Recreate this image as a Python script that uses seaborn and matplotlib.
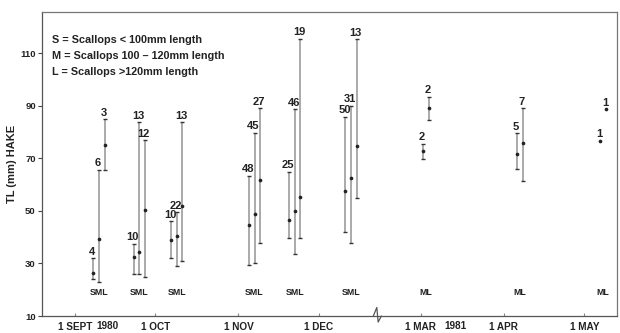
import numpy as np
import pandas as pd
import matplotlib
matplotlib.use("Agg")
import matplotlib.pyplot as plt
import matplotlib.transforms as mtransforms
import seaborn as sns

# ---------------- data ----------------
sample_dates = ["1980-09-10", "1980-09-25", "1980-10-09", "1980-11-07", "1980-11-22",
                "1980-12-13", "1981-03-03", "1981-04-07", "1981-05-08"]
nan = np.nan
s_mean = [26.4, 32.6, 39.0, 44.7, 46.6, 57.7, nan, nan, nan]
s_min = [24.1, 26.0, 32.0, 29.4, 39.6, 42.1, nan, nan, nan]
s_max = [32.0, 37.4, 46.0, 63.5, 65.0, 85.9, nan, nan, nan]
s_n = [4, 10, 10, 48, 25, 50, None, None, None]
m_mean = [39.2, 34.5, 40.5, 48.7, 50.0, 62.7, 72.9, 71.7, 76.7]
m_min = [23.1, 26.0, 29.2, 30.3, 33.6, 37.9, 69.8, 66.0, nan]
m_max = [65.8, 83.8, 49.5, 79.8, 88.7, 90.0, 75.5, 79.6, nan]
m_n = [6, 13, 22, 45, 46, 31, 2, 5, 1]
l_mean = [75.2, 50.4, 52.0, 61.8, 55.5, 74.8, 89.1, 76.0, 88.7]
l_min = [65.8, 25.0, 31.0, 37.7, 39.6, 54.8, 84.7, 61.4, nan]
l_max = [85.0, 77.0, 83.8, 89.1, 115.5, 115.4, 93.5, 89.1, nan]
l_n = [3, 12, 13, 27, 19, 13, 2, 7, 1]

tick_dates = ["1980-09-01", "1980-10-01", "1980-11-01", "1980-12-01",
              "1981-03-01", "1981-04-01", "1981-05-01"]
tick_labels = ["1 SEPT", "1 OCT", "1 NOV", "1 DEC", "1 MAR", "1 APR", "1 MAY"]
year_labels = [("1980-09-13", "1980"), ("1981-03-14", "1981")]
y_ticks = [10, 30, 50, 70, 90, 110]
legend_lines = ["S = Scallops < 100mm length",
                "M = Scallops 100 – 120mm length",
                "L = Scallops >120mm length"]

# ---------------- broken time scale (Jan–Feb omitted) ----------------
BREAK_OFFSET = 129  # axis position of 1 Mar 1981


def axis_pos(d):
    d = pd.Timestamp(d)
    if d.year == 1980:
        return float((d - pd.Timestamp("1980-09-01")).days)
    return BREAK_OFFSET + float((d - pd.Timestamp("1981-03-01")).days)


rows = []
for i, d in enumerate(sample_dates):
    has_s = not np.isnan(s_mean[i])
    offs = {"S": -2.1, "M": 0.0, "L": 2.1} if has_s else {"M": -1.1, "L": 1.1}
    for size, mean, lo, hi, n in (("S", s_mean, s_min, s_max, s_n),
                                  ("M", m_mean, m_min, m_max, m_n),
                                  ("L", l_mean, l_min, l_max, l_n)):
        if np.isnan(mean[i]):
            continue
        rows.append(dict(group=i, size=size, x=axis_pos(d) + offs[size],
                         mean=mean[i], lo=lo[i], hi=hi[i], n=n[i]))
df = pd.DataFrame(rows)

# ---------------- figure ----------------
sns.set_theme(style="white")
plt.rcParams["font.family"] = ["Liberation Sans", "DejaVu Sans"]

fig = plt.figure(figsize=(6.2, 3.33), dpi=100)
ax = fig.add_axes([42 / 620, 17 / 333, 575 / 620, 304 / 333])

TXT = "#222222"
BAR = "#9c9c9c"

rng = df.dropna(subset=["lo"])
ax.vlines(rng["x"], rng["lo"], rng["hi"], color=BAR, lw=1.2, zorder=2)
ax.hlines(list(rng["lo"]) + list(rng["hi"]),
          list(rng["x"] - 0.75) * 2, list(rng["x"] + 0.75) * 2,
          color="#333333", lw=1.0, zorder=3)
sns.scatterplot(data=df, x="x", y="mean", color="#222222", s=7, linewidth=0,
                ax=ax, legend=False, zorder=4)

for _, r in df.iterrows():
    top = r["hi"] if not np.isnan(r["hi"]) else r["mean"]
    ax.text(r["x"] - 0.4, top + 0.6, str(int(r["n"])), ha="center", va="bottom",
            fontsize=8, fontweight="bold", color=TXT, zorder=5)

# S M L group labels
for i, d in enumerate(sample_dates):
    has_s = not np.isnan(s_mean[i])
    ax.text(axis_pos(d), 18.8, "SML" if has_s else "ML", ha="center", va="center",
            fontsize=6.3, fontweight="bold", color=TXT)

# legend text
for k, line in enumerate(legend_lines):
    ax.text(0.018, 0.908 - k * 0.052, line, transform=ax.transAxes, ha="left",
            va="center", fontsize=7.8, fontweight="bold", color=TXT)

ax.set_xlim(-12.3, 202.2)
ax.set_ylim(10, 125.8)
ax.set_xticks([axis_pos(t) for t in tick_dates])
ax.set_xticklabels(tick_labels, fontsize=7.2, fontweight="bold", color=TXT)
ax.set_yticks(y_ticks)
ax.set_yticklabels([str(v) for v in y_ticks], fontsize=6.8, fontweight="bold", color=TXT)
ax.set_xlabel("")
ax.set_ylabel("TL (mm) HAKE", fontsize=8, fontweight="bold", color=TXT, labelpad=2)
ax.tick_params(axis="y", direction="out", length=3, width=0.8, color="#444444", pad=1.5)
ax.tick_params(axis="x", direction="in", length=2.5, width=0.8, color="#888888", pad=4)
ax.tick_params(axis="x", bottom=True)
ax.tick_params(axis="y", left=True)

for side, sp in ax.spines.items():
    sp.set_visible(True)
    sp.set_linewidth(0.9)
    sp.set_color("#777777" if side in ("top", "right") else "#555555")

trans = mtransforms.blended_transform_factory(ax.transData, ax.transAxes)

# year labels, on the same line as the tick labels
for d, yr in year_labels:
    ax.text(axis_pos(d), -0.0165, yr, transform=trans,
            ha="center", va="top", fontsize=7.2, fontweight="bold", color=TXT)

# axis break marker
bx = axis_pos("1980-12-01") + 21.8
ax.plot([bx - 1.5, bx - 0.2, bx + 0.3, bx + 1.5], [0.0, 0.028, -0.02, 0.0],
        transform=trans, color="#555555", lw=0.9, clip_on=False, zorder=6)

fig.savefig("out.png", dpi=100)
